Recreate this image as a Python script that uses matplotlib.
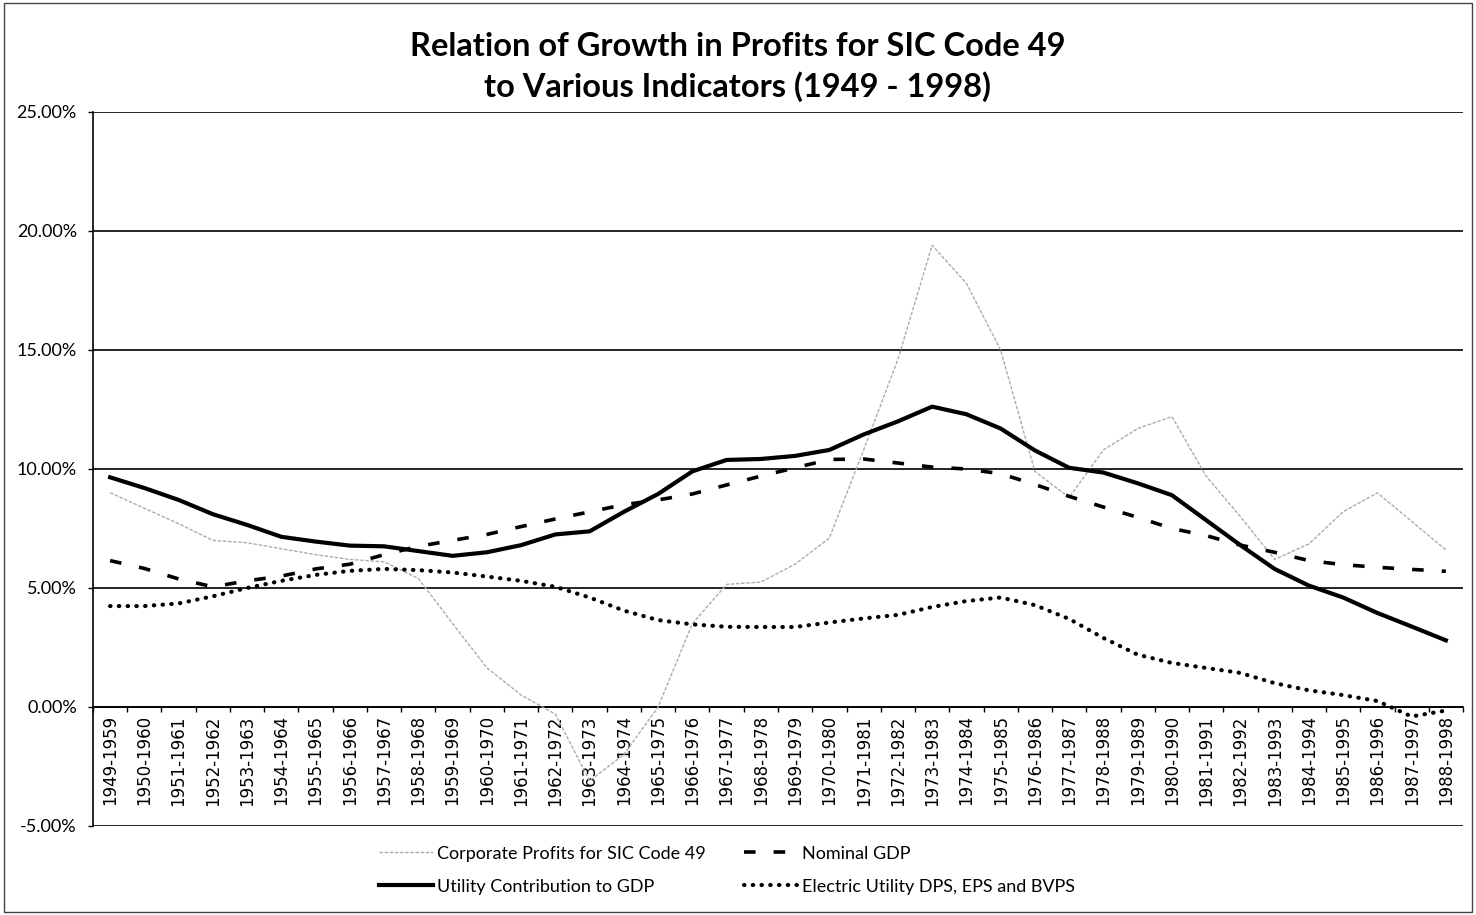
import matplotlib
matplotlib.use("Agg")
import matplotlib.pyplot as plt
from matplotlib.patches import Rectangle
from matplotlib.ticker import FuncFormatter, FixedLocator

# ten-year windows, 1949-1959 through 1988-1998
periods = ["%d-%d" % (y, y + 10) for y in range(1949, 1989)]

# growth rates in percent
corp_profits = [9.0, 8.35, 7.7, 7.0, 6.9, 6.65, 6.4, 6.2, 6.1, 5.4,
                3.5, 1.65, 0.5, -0.3, -3.1, -2.0, 0.0, 3.5, 5.15, 5.25,
                6.0, 7.1, 10.8, 14.6, 19.4, 17.8, 15.0, 9.9, 8.8, 10.8,
                11.7, 12.2, 9.7, 8.0, 6.2, 6.85, 8.2, 9.0, 7.8, 6.6]
nominal_gdp = [6.15, 5.82, 5.38, 5.05, 5.3, 5.5, 5.8, 6.0, 6.4, 6.75,
               7.0, 7.25, 7.58, 7.9, 8.2, 8.5, 8.7, 8.95, 9.33, 9.7,
               10.05, 10.4, 10.42, 10.25, 10.08, 10.0, 9.8, 9.35, 8.85, 8.4,
               7.97, 7.5, 7.2, 6.8, 6.5, 6.15, 5.98, 5.87, 5.78, 5.7]
utility_gdp = [9.65, 9.2, 8.7, 8.1, 7.65, 7.15, 6.95, 6.78, 6.75, 6.55,
               6.35, 6.5, 6.8, 7.25, 7.38, 8.2, 8.95, 9.9, 10.38, 10.42,
               10.55, 10.8, 11.45, 12.0, 12.62, 12.3, 11.7, 10.78, 10.05, 9.85,
               9.4, 8.9, 7.85, 6.8, 5.8, 5.1, 4.6, 3.95, 3.38, 2.8]
elec_utility = [4.24, 4.24, 4.35, 4.65, 5.0, 5.3, 5.55, 5.72, 5.8, 5.75,
                5.65, 5.48, 5.3, 5.05, 4.6, 4.05, 3.65, 3.47, 3.37, 3.36,
                3.36, 3.55, 3.72, 3.87, 4.2, 4.45, 4.6, 4.28, 3.7, 2.9,
                2.2, 1.85, 1.64, 1.43, 1.0, 0.7, 0.5, 0.25, -0.4, -0.15]

x = list(range(len(periods)))

fig = plt.figure(figsize=(14.76, 9.15), dpi=100)
ax = fig.add_axes([0.063, 0.0973, 0.9282, 0.7803])

l_corp, = ax.plot(x, corp_profits, color="#ababab", lw=1.0,
                  linestyle=(0, (2.5, 1.2)), zorder=3,
                  label="Corporate Profits for SIC Code 49")
l_util, = ax.plot(x, utility_gdp, color="black", lw=3.0,
                  solid_joinstyle="round", zorder=4,
                  label="Utility Contribution to GDP")
l_gdp, = ax.plot(x, nominal_gdp, color="black", lw=2.6,
                 linestyle=(0, (3.2, 5)), zorder=4, label="Nominal GDP")
l_elec, = ax.plot(x, elec_utility, color="black", lw=3.0,
                  linestyle=(0, (0.1, 2.0)), dash_capstyle="round", zorder=4,
                  label="Electric Utility DPS, EPS and BVPS")

ax.set_xlim(-0.5, len(periods) - 0.5)
ax.set_ylim(-5, 25)
ax.set_yticks([-5, 0, 5, 10, 15, 20, 25])
ax.yaxis.set_major_formatter(FuncFormatter(lambda v, p: "%.2f%%" % v))
ax.grid(axis="y", color="black", lw=1.2, zorder=1)
ax.set_axisbelow(True)

# category axis crosses at zero, labels hang below it
ax.spines["bottom"].set_position(("data", 0))
ax.spines["bottom"].set_linewidth(1.2)
ax.spines["left"].set_linewidth(1.2)
ax.spines["top"].set_visible(False)
ax.spines["right"].set_visible(False)
ax.set_xticks(x)
ax.set_xticklabels(periods, rotation=90, fontsize=12,
                   family="DejaVu Sans")
ax.xaxis.set_minor_locator(FixedLocator([i - 0.5 for i in range(len(periods) + 1)]))
ax.tick_params(axis="x", which="major", length=0, pad=6)
ax.tick_params(axis="x", which="minor", length=3.6, width=1.0, direction="out")
ax.tick_params(axis="y", length=3.6, width=1.0, labelsize=13, pad=8)
for t in ax.get_yticklabels():
    t.set_family("Lato")

fig.text(0.5, 0.949, "Relation of Growth in Profits for SIC Code 49",
         ha="center", va="center", fontsize=23.5, fontweight="bold", family="Lato")
fig.text(0.5, 0.905, "to Various Indicators (1949 - 1998)",
         ha="center", va="center", fontsize=23.5, fontweight="bold", family="Lato")

fig.legend(handles=[l_corp, l_util, l_gdp, l_elec], ncol=2,
           loc="center", bbox_to_anchor=(0.4925, 0.049),
           frameon=False, prop={"family": "Lato", "size": 13},
           handlelength=3.0, handletextpad=0.2, columnspacing=2.1,
           labelspacing=0.95, borderpad=0)

fig.patches.append(Rectangle((0.003, 0.003), 0.994, 0.994, transform=fig.transFigure,
                             fill=False, edgecolor="#444444", lw=1.0))

fig.savefig("out.png", dpi=100)
